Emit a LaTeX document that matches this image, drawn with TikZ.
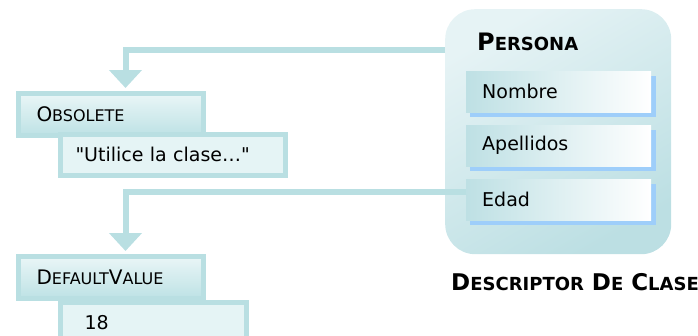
\documentclass[tikz,border=0pt]{standalone}
\usepackage{fontspec}
\setmainfont{DejaVu Sans}[Ligatures=TeXOff]
\usetikzlibrary{arrows.meta,positioning}
\definecolor{linea}{RGB}{185,223,226}
\definecolor{etqa}{RGB}{234,246,247}
\definecolor{etqb}{RGB}{190,226,229}
\definecolor{valorc}{RGB}{229,244,245}
\definecolor{clasea}{RGB}{230,243,245}
\definecolor{claseb}{RGB}{188,223,227}
\definecolor{campoa}{RGB}{190,224,228}
\definecolor{sombrac}{RGB}{158,206,250}
\newcommand\vers[3][16]{#2{\fontsize{#1}{#1}\selectfont #3}}
\begin{document}
\begin{tikzpicture}[x=1pt,y=-1pt,>={Triangle[width=32pt,length=18pt]},
  etiq/.style={draw=linea,line width=5pt,top color=etqa,bottom color=etqb,minimum height=42pt,
    text width=148pt,inner xsep=18.5pt,align=left,font=\fontsize{20}{20}\selectfont},
  valor/.style={draw=linea,line width=5pt,fill=valorc,minimum height=41pt,align=left,
    font=\fontsize{19}{19}\selectfont},
  campo/.style={left color=campoa,right color=white,minimum height=41pt,text width=153pt,
    inner xsep=16pt,align=left,font=\fontsize{19}{19}\selectfont},
  sombra/.style={fill=sombrac},
  enlace/.style={draw=linea,line width=6pt,->,shorten >=2.5pt}]
\useasboundingbox (0,0) rectangle (698,335);
% descriptor de clase
\node[rounded corners=30pt,top color=clasea,bottom color=claseb,shading angle=30,
  minimum width=226pt,minimum height=245pt,anchor=north west] (persona) at (445,9) {};
\node[anchor=base west,inner sep=0pt,font=\bfseries\fontsize{24}{24}\selectfont] (titulo) at (477,50) {\vers[18]{P}{ERSONA}};
\foreach \y/\nom/\txt in {71/nombre/Nombre,125/apellidos/Apellidos,179/edad/Edad}{
  \fill[sombra] (470,\y+5) rectangle (656,\y+46);
  \node[campo,anchor=north west] (\nom) at (466,\y) {\txt};
}
\node[anchor=base west,inner sep=0pt,font=\bfseries\fontsize{23}{23}\selectfont] (pie) at (451,290)
  {\vers[18]{D}{ESCRIPTOR} \vers[18]{D}{E} \vers[18]{C}{LASE}};
% atributos
\node[etiq,anchor=north west] (obs) at (15.5,90.5) {\vers{O}{BSOLETE}};
\node[valor,text width=194pt,inner xsep=15.5pt,anchor=north west] (obsval) at (57.5,131.5) {"Utilice la clase…"};
\node[etiq,anchor=north west] (dv) at (15.5,253.5) {\vers{D}{EFAULT}\vers{V}{ALUE}};
\node[valor,text width=137pt,inner xsep=24.5pt,anchor=north west] (dvval) at (57.5,299.5) {18};
% enlaces
\coordinate (e1) at (445,50);
\draw[enlace] (e1) -| ([xshift=15pt]obs.north);
\draw[enlace] ([yshift=7.5pt]edad.west) -| ([xshift=15pt]dv.north);
\end{tikzpicture}
\end{document}
